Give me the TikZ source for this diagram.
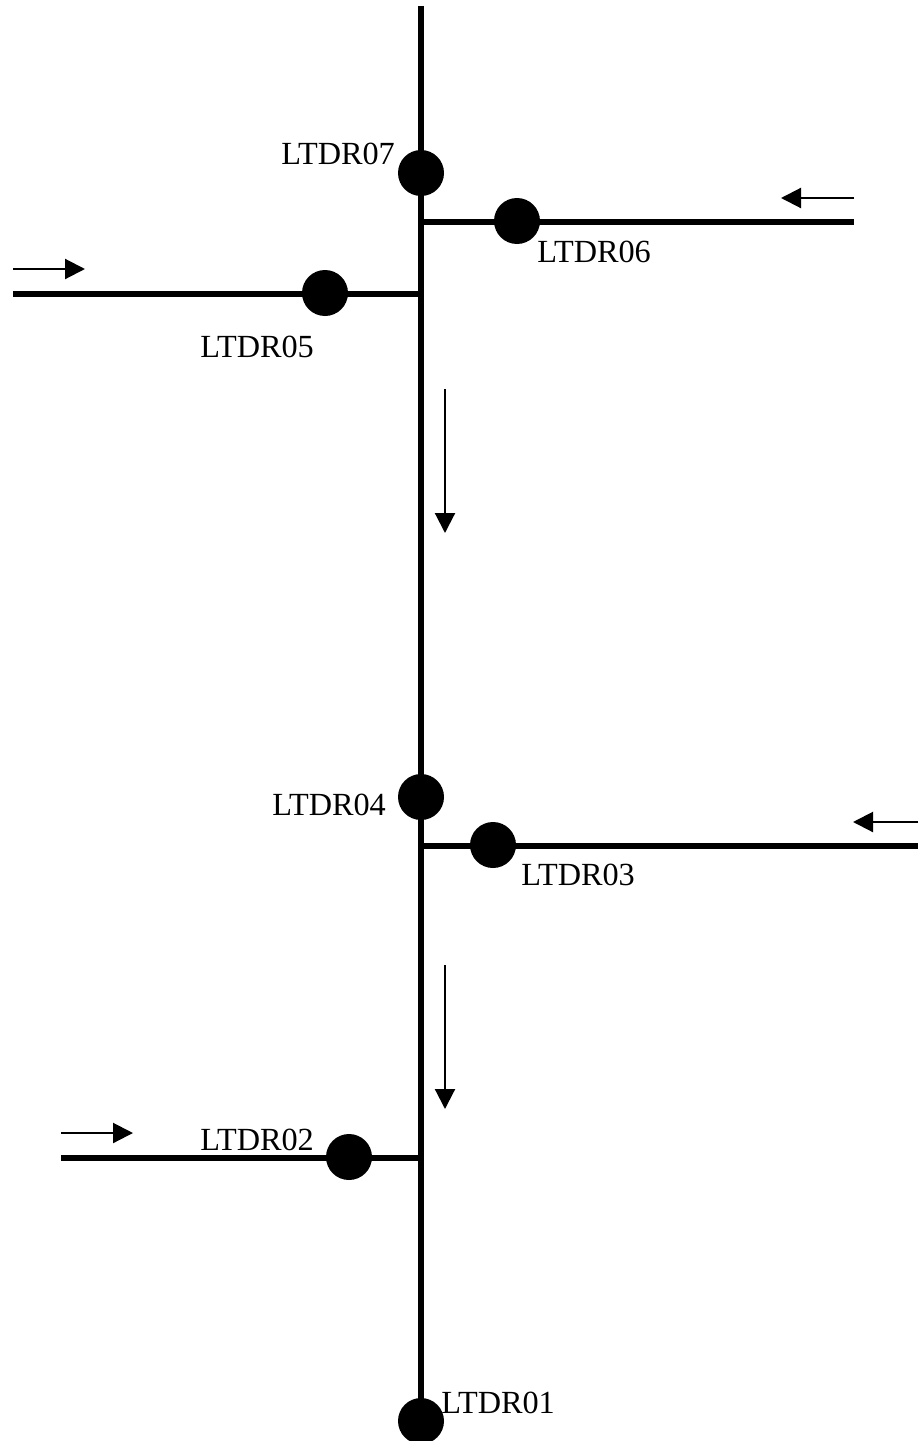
\documentclass[tikz,border=0pt]{standalone}
\usepackage{fontspec}
\setmainfont{Liberation Serif}
\usetikzlibrary{arrows.meta}
\tikzset{
  px/.style={x=0.75pt,y=-0.75pt},
  station/.style={circle,fill=black,draw=none,minimum size=34.5pt,inner sep=0pt},
  pipe/.style={line width=4.5pt,draw=black},
  flow/.style={line width=1.6pt,draw=black,-{Triangle[width=15pt,length=15pt]}},
  tag/.style={anchor=base west,inner sep=0pt,font=\fontsize{24.2}{24.2}\selectfont,text=black}
}
\begin{document}
\begin{tikzpicture}[px]
\useasboundingbox (0,0) rectangle (918,1441);
% free ends and junctions
\coordinate (top) at (421,6);
\coordinate (j6) at (421,221.6);
\coordinate (e6) at (854,221.6);
\coordinate (j5) at (421,293.6);
\coordinate (e5) at (13,293.6);
\coordinate (j3) at (421,845.6);
\coordinate (e3) at (918,845.6);
\coordinate (j2) at (421,1157.6);
\coordinate (e2) at (61,1157.6);
% stations
\node[station] (n7) at (421,173) {};
\node[station] (n6) at (517,221) {};
\node[station] (n5) at (325,293) {};
\node[station] (n4) at (421,797) {};
\node[station] (n3) at (493,845) {};
\node[station] (n2) at (349,1157) {};
\node[station] (n1) at (421,1421) {};
% pipes
\draw[pipe] (top) -- (n1.center);
\draw[pipe] (j6) -- (e6);
\draw[pipe] (e5) -- (j5);
\draw[pipe] (j3) -- (e3);
\draw[pipe] (e2) -- (j2);
% flow arrows
\coordinate (a1s) at (854,198); \coordinate (a1e) at (781,198);
\coordinate (a2s) at (13,269); \coordinate (a2e) at (85,269);
\coordinate (a3s) at (445,389); \coordinate (a3e) at (445,533);
\coordinate (a4s) at (918,822); \coordinate (a4e) at (853,822);
\coordinate (a5s) at (445,965); \coordinate (a5e) at (445,1109);
\coordinate (a6s) at (61,1133); \coordinate (a6e) at (133,1133);
\draw[flow] (a1s) -- (a1e);
\draw[flow] (a2s) -- (a2e);
\draw[flow] (a3s) -- (a3e);
\draw[flow] (a4s) -- (a4e);
\draw[flow] (a5s) -- (a5e);
\draw[flow] (a6s) -- (a6e);
% labels
\node[tag] (t7) at (281,165) {LTDR07};
\node[tag] (t6) at (537,262) {LTDR06};
\node[tag] (t5) at (200,357) {LTDR05};
\node[tag] (t4) at (272,815) {LTDR04};
\node[tag] (t3) at (521,885) {LTDR03};
\node[tag] (t2) at (200,1150) {LTDR02};
\node[tag] (t1) at (441,1413) {LTDR01};
\end{tikzpicture}
\end{document}
